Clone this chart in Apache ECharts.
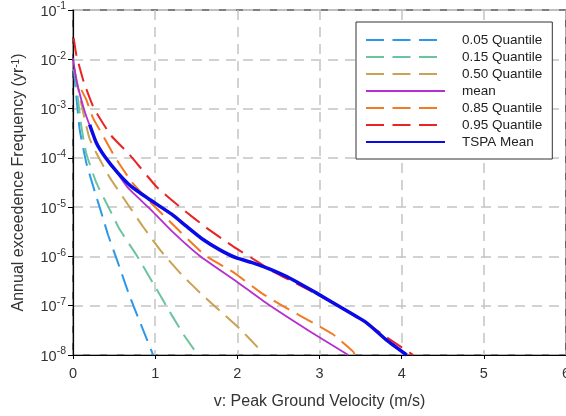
<!DOCTYPE html>
<html><head><meta charset="utf-8">
<script src="https://cdn.jsdelivr.net/npm/echarts@6/dist/echarts.min.js"></script>
<style>html,body{margin:0;padding:0;background:#fff}#c{width:566px;height:416px}</style>
</head><body><div id="c"></div>
<script>
const seriesNames = ['0.05 Quantile','0.15 Quantile','0.50 Quantile','mean','0.85 Quantile','0.95 Quantile','TSPA Mean'];
const xTicks = [0,1,2,3,4,5,6];

const q05X = [0.01, 0.045, 0.082, 0.163, 0.264, 0.365, 0.426, 0.548, 0.69, 0.812, 0.975];
const q05Y = [6.3e-3, 1.5e-3, 3.7e-4, 7.8e-5, 2.1e-5, 6.0e-6, 2.75e-6, 7.4e-7, 1.55e-7, 4.8e-8, 1e-8];

const q15X = [0.02, 0.06, 0.10, 0.16, 0.285, 0.447, 0.569, 0.772, 0.995, 1.198, 1.36, 1.52];
const q15Y = [6.3e-3, 1.6e-3, 4.5e-4, 1.26e-4, 3.1e-5, 8.9e-6, 3.5e-6, 1.07e-6, 2.5e-7, 6.6e-8, 2.4e-8, 1e-8];

const q50X = [0.03, 0.10, 0.20, 0.30, 0.447, 0.67, 0.853, 1.08, 1.32, 1.583, 1.807, 2.03, 2.253];
const q50Y = [5.0e-3, 1.26e-3, 2.5e-4, 1.12e-4, 4.0e-5, 1.12e-5, 4.0e-6, 1.23e-6, 4.3e-7, 1.6e-7, 7.4e-8, 3.4e-8, 1.4e-8];

const meanX = [0, 0.041, 0.102, 0.163, 0.285, 0.386, 0.548, 0.67, 0.955, 1.2, 1.544, 1.99, 2.356, 2.884, 3.35];
const meanY = [1.05e-2, 3.8e-3, 1.5e-3, 6.9e-4, 2.1e-4, 1.05e-4, 4.7e-5, 2.45e-5, 8.6e-6, 3.3e-6, 1.02e-6, 3.1e-7, 1.12e-7, 3.0e-8, 1e-8];

const q85X = [0.102, 0.163, 0.244, 0.346, 0.508, 0.711, 0.914, 1.178, 1.604, 1.949, 2.295, 2.60, 2.923, 3.167, 3.41, 3.43];
const q85Y = [2.4e-3, 1.5e-3, 6.4e-4, 3.2e-4, 1.06e-4, 3.3e-5, 1.4e-5, 5.1e-6, 1.07e-6, 4.8e-7, 1.8e-7, 8.9e-8, 4.5e-8, 2.6e-8, 1.17e-8, 1e-8];

const q95X = [0.009, 0.041, 0.13, 0.256, 0.459, 0.69, 1.016, 1.32, 1.625, 1.949, 2.274, 2.43, 2.72, 3.005, 3.3, 3.6, 3.85, 4.14];
const q95Y = [2.7e-2, 1.22e-2, 3.5e-3, 1.0e-3, 2.9e-4, 1.15e-4, 2.6e-5, 9.5e-6, 3.8e-6, 1.6e-6, 7.3e-7, 5.0e-7, 2.8e-7, 1.6e-7, 8.3e-8, 4.1e-8, 2.1e-8, 1e-8];

const tspaX = [0.203, 0.285, 0.386, 0.548, 0.711, 0.914, 1.2, 1.38, 1.583, 1.787, 1.99, 2.19, 2.396, 2.64, 2.965, 3.248, 3.574, 3.817, 4.061];
const tspaY = [4.7e-4, 2.0e-4, 1.07e-4, 4.9e-5, 2.6e-5, 1.5e-5, 7.2e-6, 4.1e-6, 2.2e-6, 1.36e-6, 9.3e-7, 7.4e-7, 5.5e-7, 3.6e-7, 1.8e-7, 9.5e-8, 4.5e-8, 2.0e-8, 1e-8];

const FONT = '"Liberation Sans", Arial, sans-serif';
const DASH = [18, 8.5];
const pairs = (xs, ys) => xs.map((x, i) => [x, ys[i]]);

const styles = [
  {data: pairs(q05X, q05Y), color: '#2c98e8', width: 2, dash: true},
  {data: pairs(q15X, q15Y), color: '#6cc49e', width: 2, dash: true},
  {data: pairs(q50X, q50Y), color: '#c9a254', width: 2, dash: true},
  {data: pairs(meanX, meanY), color: '#b52ed0', width: 1.8, dash: false},
  {data: pairs(q85X, q85Y), color: '#f27a22', width: 2, dash: true},
  {data: pairs(q95X, q95Y), color: '#e82424', width: 2, dash: true},
  {data: pairs(tspaX, tspaY), color: '#0a0ae6', width: 3.5, dash: false}
];

const chart = echarts.init(document.getElementById('c'), null, {renderer: 'canvas'});
chart.setOption({
  animation: false,
  backgroundColor: '#fff',
  grid: {left: 73, right: 0, top: 10, bottom: 61, outerBoundsMode: 'none', containLabel: false,
    show: true, borderColor: '#000', borderWidth: 1.2, backgroundColor: 'transparent'},
  legend: {
    orient: 'vertical', left: 356, top: 22,
    backgroundColor: '#fff', borderColor: '#333', borderWidth: 1,
    padding: [11, 10, 10, 9],
    itemWidth: 79, itemHeight: 14, itemGap: 3,
    itemStyle: {opacity: 0},
    textStyle: {fontFamily: FONT, fontSize: 13.5, color: '#222', padding: [0, 0, 0, 12], lineHeight: 14},
    data: seriesNames
  },
  xAxis: {
    type: 'value', min: 0, max: 6, interval: 1,
    name: 'v: Peak Ground Velocity (m/s)', nameLocation: 'middle', nameGap: 39,
    nameTextStyle: {fontFamily: FONT, fontSize: 16, color: '#333'},
    axisLine: {show: true, onZero: false, lineStyle: {color: '#000', width: 1.2}},
    axisTick: {show: true, length: 4, lineStyle: {color: '#000'}},
    axisLabel: {fontFamily: FONT, fontSize: 14.5, color: '#333', margin: 11,
      formatter: v => xTicks.includes(v) ? String(v) : ''},
    splitLine: {show: true, lineStyle: {color: '#c4c4c4', type: [10, 7], width: 1.5}}
  },
  yAxis: {
    type: 'log', logBase: 10, min: 1e-8, max: 1e-1, interval: 1,
    name: 'Annual exceedence Frequency (yr{s|-1})', nameLocation: 'middle', nameGap: 46, nameRotate: 90,
    nameTextStyle: {fontFamily: FONT, fontSize: 16, color: '#333',
      rich: {s: {fontFamily: FONT, fontSize: 10, color: '#333', verticalAlign: 'top', padding: [0, 0, 6, 0]}}},
    axisLine: {show: true, onZero: false, lineStyle: {color: '#000', width: 1.2}},
    axisTick: {show: true, length: 5, lineStyle: {color: '#000'}},
    minorTick: {show: false},
    axisLabel: {
      margin: 7,
      formatter: v => '{b|10}{s|' + Math.round(Math.log10(v)) + '}',
      rich: {
        b: {fontFamily: FONT, fontSize: 14.5, color: '#333', lineHeight: 18, verticalAlign: 'bottom'},
        s: {fontFamily: FONT, fontSize: 10.5, color: '#333', lineHeight: 18, verticalAlign: 'top', padding: [0, 0, 7, 0]}
      }
    },
    splitLine: {show: true, lineStyle: {color: '#c4c4c4', type: [10, 7], width: 1.5}}
  },
  series: styles.map((s, i) => ({
    name: seriesNames[i], type: 'line', data: s.data, smooth: 0.15,
    showSymbol: false, symbol: 'none', clip: true, z: 2 + i,
    lineStyle: {color: s.color, width: s.width, type: s.dash ? DASH : 'solid'},
    itemStyle: {color: s.color}
  }))
});
</script></body></html>
